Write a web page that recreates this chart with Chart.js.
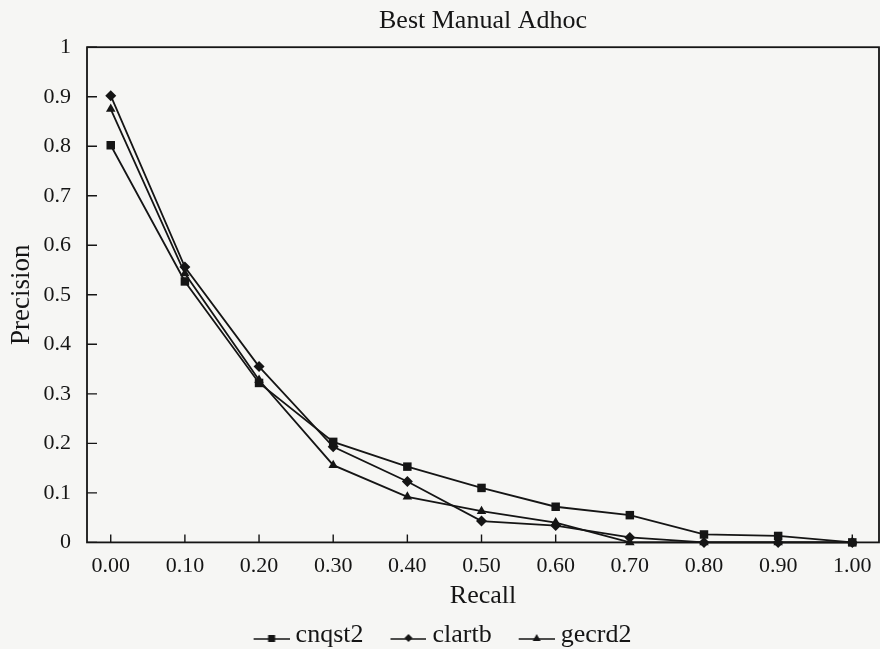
<!DOCTYPE html>
<html>
<head>
<meta charset="utf-8">
<script src="https://cdn.jsdelivr.net/npm/chart.js@4/dist/chart.umd.min.js"></script>
<style>
  html, body { margin: 0; padding: 0; background: #f6f6f4; }
  #wrap { width: 880px; height: 649px; }
</style>
</head>
<body>
<div id="wrap"><canvas id="prChart" width="880" height="649"></canvas></div>
<script>
const recall = [0.0, 0.1, 0.2, 0.3, 0.4, 0.5, 0.6, 0.7, 0.8, 0.9, 1.0];
const cnqst2 = [0.802, 0.527, 0.322, 0.203, 0.153, 0.110, 0.072, 0.055, 0.016, 0.013, 0.0];
const clartb = [0.902, 0.556, 0.355, 0.193, 0.123, 0.043, 0.034, 0.010, 0.0, 0.0, 0.0];
const gecrd2 = [0.875, 0.543, 0.328, 0.156, 0.092, 0.063, 0.040, 0.0, 0.0, 0.0, 0.0];
const seriesNames = ["cnqst2", "clartb", "gecrd2"];
const markerStyles = ["rect", "rectRot", "triangle"];

const serif = "'Liberation Serif', 'Times New Roman', serif";
const ink = "#151515";

// "—■—" legend images; wider than the legend box so the text sits close to the symbol
function legendSymbol(style) {
    const c = document.createElement("canvas");
    c.width = 43; c.height = 16;
    const g = c.getContext("2d");
    const x0 = 7, x1 = 43, mid = 25, base = 12;
    g.strokeStyle = ink; g.fillStyle = ink; g.lineWidth = 1.6;
    g.beginPath(); g.moveTo(x0, base); g.lineTo(x1, base); g.stroke();
    g.beginPath();
    if (style === "rect") g.rect(mid - 3.5, base - 4, 7, 7);
    else if (style === "rectRot") { g.moveTo(mid, base - 5); g.lineTo(mid + 4, base - 1); g.lineTo(mid, base + 3); g.lineTo(mid - 4, base - 1); g.closePath(); }
    else { g.moveTo(mid, base - 5); g.lineTo(mid + 4, base + 2); g.lineTo(mid - 4, base + 2); g.closePath(); }
    g.fill();
    return c;
}

const frame = {
    id: "frame",
    beforeDraw(chart) {
        const ctx = chart.ctx;
        ctx.save();
        ctx.fillStyle = "#f6f6f4";
        ctx.fillRect(0, 0, chart.width, chart.height);
        ctx.restore();
    },
    beforeDatasetsDraw(chart) {
        const { ctx, chartArea: a, scales } = chart;
        ctx.save();
        ctx.strokeStyle = ink;
        ctx.lineWidth = 1.8;
        ctx.strokeRect(a.left, a.top, a.right - a.left, a.bottom - a.top);
        ctx.lineWidth = 1.4;
        ctx.beginPath();
        scales.y.ticks.forEach(t => {
            const py = scales.y.getPixelForValue(t.value);
            ctx.moveTo(a.left, py); ctx.lineTo(a.left + 10, py);
        });
        scales.x.ticks.forEach(t => {
            const px = scales.x.getPixelForValue(t.value);
            ctx.moveTo(px, a.bottom); ctx.lineTo(px, a.bottom - 8);
        });
        ctx.stroke();
        ctx.restore();
    }
};

const datasets = [cnqst2, clartb, gecrd2].map((vals, i) => ({
    label: seriesNames[i],
    data: recall.map((r, k) => ({ x: r, y: vals[k] })),
    borderColor: ink,
    backgroundColor: ink,
    borderWidth: 1.8,
    pointStyle: markerStyles[i],
    pointRadius: markerStyles[i] === "rect" ? 6 : 5.5,
    pointBorderWidth: 0,
    fill: false,
    tension: 0,
    clip: false
}));

const noGrid = { display: false, drawTicks: false };

new Chart(document.getElementById("prChart").getContext("2d"), {
    type: "line",
    data: { datasets: datasets },
    plugins: [frame],
    options: {
        responsive: false,
        animation: false,
        layout: { autoPadding: false, padding: { left: 6, right: 1, top: 2, bottom: -9 } },
        plugins: {
            tooltip: { enabled: false },
            legend: {
                position: "bottom",
                labels: {
                    usePointStyle: true,
                    pointStyleWidth: 29,
                    color: ink,
                    font: { family: serif, size: 26 },
                    padding: 27,
                    generateLabels: chart => chart.data.datasets.map((ds, i) => ({
                        text: ds.label,
                        pointStyle: legendSymbol(markerStyles[i]),
                        fillStyle: ink,
                        strokeStyle: ink,
                        lineWidth: 0,
                        fontColor: ink,
                        datasetIndex: i
                    }))
                }
            }
        },
        scales: {
            x: {
                type: "linear",
                min: -0.032,
                max: 1.036,
                afterBuildTicks: axis => { axis.ticks = recall.map(v => ({ value: v })); },
                afterFit: axis => { axis.paddingLeft = 0; axis.paddingRight = 0; },
                grid: noGrid,
                border: { display: false },
                ticks: {
                    color: ink,
                    font: { family: serif, size: 22 },
                    padding: 11,
                    maxRotation: 0,
                    callback: v => Number(v).toFixed(2)
                },
                title: {
                    display: true, text: "Recall", color: ink,
                    font: { family: serif, size: 26 },
                    padding: { top: -10, bottom: -17 }
                }
            },
            xTop: {
                type: "linear",
                position: "top",
                display: true,
                grid: noGrid,
                border: { display: false },
                ticks: { display: false },
                title: {
                    display: true, text: "Best Manual Adhoc", color: ink,
                    font: { family: serif, size: 26 },
                    padding: { top: 4, bottom: 10 }
                }
            },
            y: {
                min: 0,
                max: 1,
                afterFit: axis => { axis.width = 81; },
                grid: noGrid,
                border: { display: false },
                ticks: {
                    stepSize: 0.1,
                    color: ink,
                    font: { family: serif, size: 22 },
                    padding: 16,
                    callback: v => (v === 0 ? "0" : v === 1 ? "1" : Number(v).toFixed(1))
                },
                title: {
                    display: true, text: "Precision", color: ink,
                    font: { family: serif, size: 27 },
                    padding: { top: 0, bottom: 6 }
                }
            }
        }
    }
});
</script>
</body>
</html>
